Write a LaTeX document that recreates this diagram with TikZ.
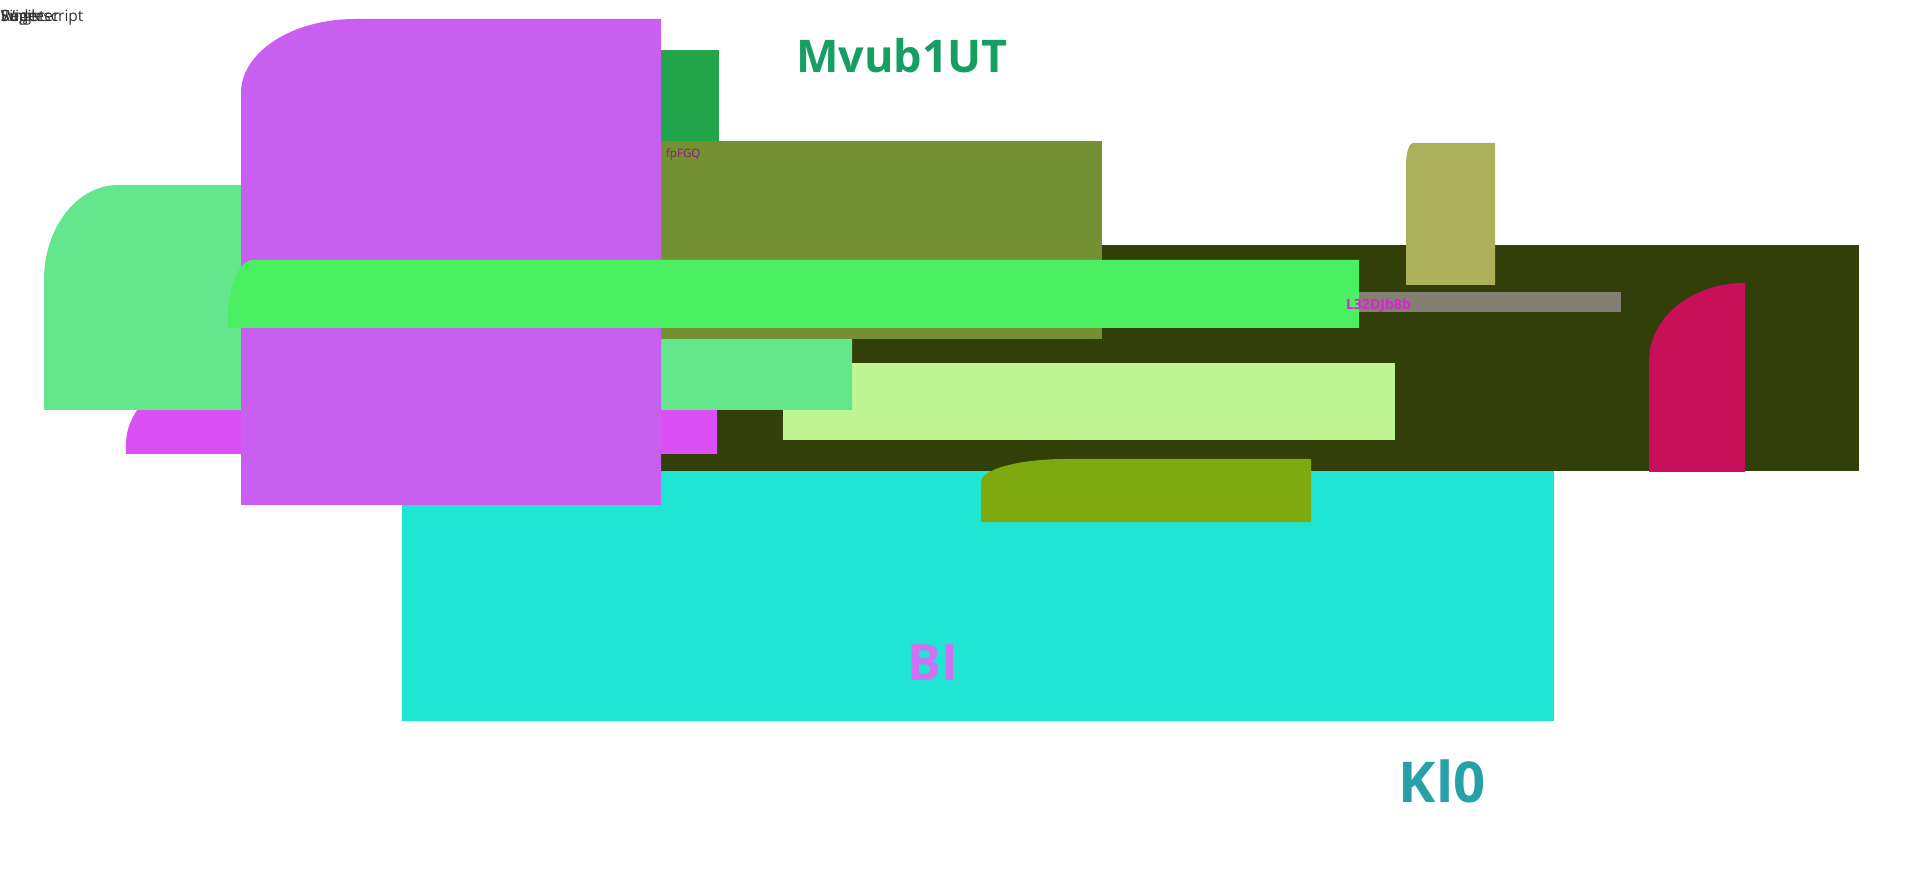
\documentclass[tikz,border=0pt]{standalone}
\usepackage{fontspec}
\setmainfont{Open Sans}
\definecolor{cLightGreen}{HTML}{63E68C}
\definecolor{cMagenta}{HTML}{DA50F5}
\definecolor{cPurple}{HTML}{C85FF0}
\definecolor{cDarkGreen}{HTML}{22A54A}
\definecolor{cOlive}{HTML}{739133}
\definecolor{cDarkOlive}{HTML}{323F09}
\definecolor{cBright}{HTML}{4AEF62}
\definecolor{cKhaki}{HTML}{ADB05A}
\definecolor{cGrayBar}{HTML}{837F72}
\definecolor{cCrimson}{HTML}{C8105A}
\definecolor{cLime}{HTML}{C0F593}
\definecolor{cCyan}{HTML}{20E5D2}
\definecolor{cOliveGreen}{HTML}{7EAA10}
\definecolor{cTitle}{HTML}{179F63}
\definecolor{cBI}{HTML}{D070F3}
\definecolor{cKl}{HTML}{27A0A7}
\definecolor{cFp}{HTML}{8B1A7B}
\definecolor{cL}{HTML}{E01FD6}
\definecolor{cTop}{HTML}{333333}
% box with a rounded (elliptic) top-left corner: colour, x1, y1, x2, y2, rx, ry
\newcommand\tlbox[7]{\fill[#1] (#2,#5) -- (#2,{#3+#7}) .. controls (#2,{#3+0.4477*#7}) and ({#2+0.4477*#6},#3) .. ({#2+#6},#3) -- (#4,#3) -- (#4,#5) -- cycle;}
\tikzset{
  lbl/.style={inner sep=0pt, outer sep=0pt},
  toptext/.style={lbl, anchor=base west, text=cTop, font=\fontsize{4.4}{5}\selectfont}
}
\begin{document}
\begin{tikzpicture}[x=0.01cm, y=-0.01cm]
\fill[white] (0,0) rectangle (1920,870);
\useasboundingbox (0,0) rectangle (1920,870);
% shapes, back to front
\fill[cCyan] (402,470) rectangle (1554,721);
\fill[cDarkOlive] (600,245) rectangle (1859,471);
\tlbox{cMagenta}{126}{385}{717}{454}{60}{60}
\fill[cLime] (783,363) rectangle (1395,440);
\tlbox{cLightGreen}{44}{185}{852}{410}{74}{95}
\fill[cOlive] (661,141) rectangle (1102,339);
\fill[cDarkGreen] (661,50) rectangle (719,141);
\tlbox{cPurple}{241}{19}{661}{505}{114}{74}
\fill[cGrayBar] (1300,292) rectangle (1621,312);
\tlbox{cBright}{228}{260}{1359}{328}{25}{60}
\tlbox{cKhaki}{1406}{143}{1495}{285}{7}{22}
\tlbox{cCrimson}{1649}{283}{1745}{472}{95}{78}
\tlbox{cOliveGreen}{981}{459}{1311}{522}{85}{23}
% texts
\node[lbl, text=cTitle, font=\fontsize{12.8}{15}\selectfont\bfseries] (title) at (902,56) {Mvub1UT};
\node[lbl, text=cBI, font=\fontsize{14.3}{16}\selectfont\bfseries] (bi) at (933,663) {BI};
\node[lbl, text=cKl, font=\fontsize{16}{18}\selectfont\bfseries] (kl) at (1442,781) {Kl0};
\node[lbl, anchor=base west, text=cFp, font=\fontsize{3.3}{4}\selectfont] (fp) at (666,158) {fpFGQ};
\node[lbl, anchor=base west, text=cL, font=\fontsize{4.0}{5}\selectfont\bfseries] (ll) at (1346,310) {L32DJb8b};
\node[toptext] (t1) at (1,22) {Superscript};
\node[toptext] (t2) at (1,22) {Register};
\node[toptext] (t3) at (1,22) {Single};
\node[toptext] (t4) at (1,22) {Wide};
\end{tikzpicture}
\end{document}
